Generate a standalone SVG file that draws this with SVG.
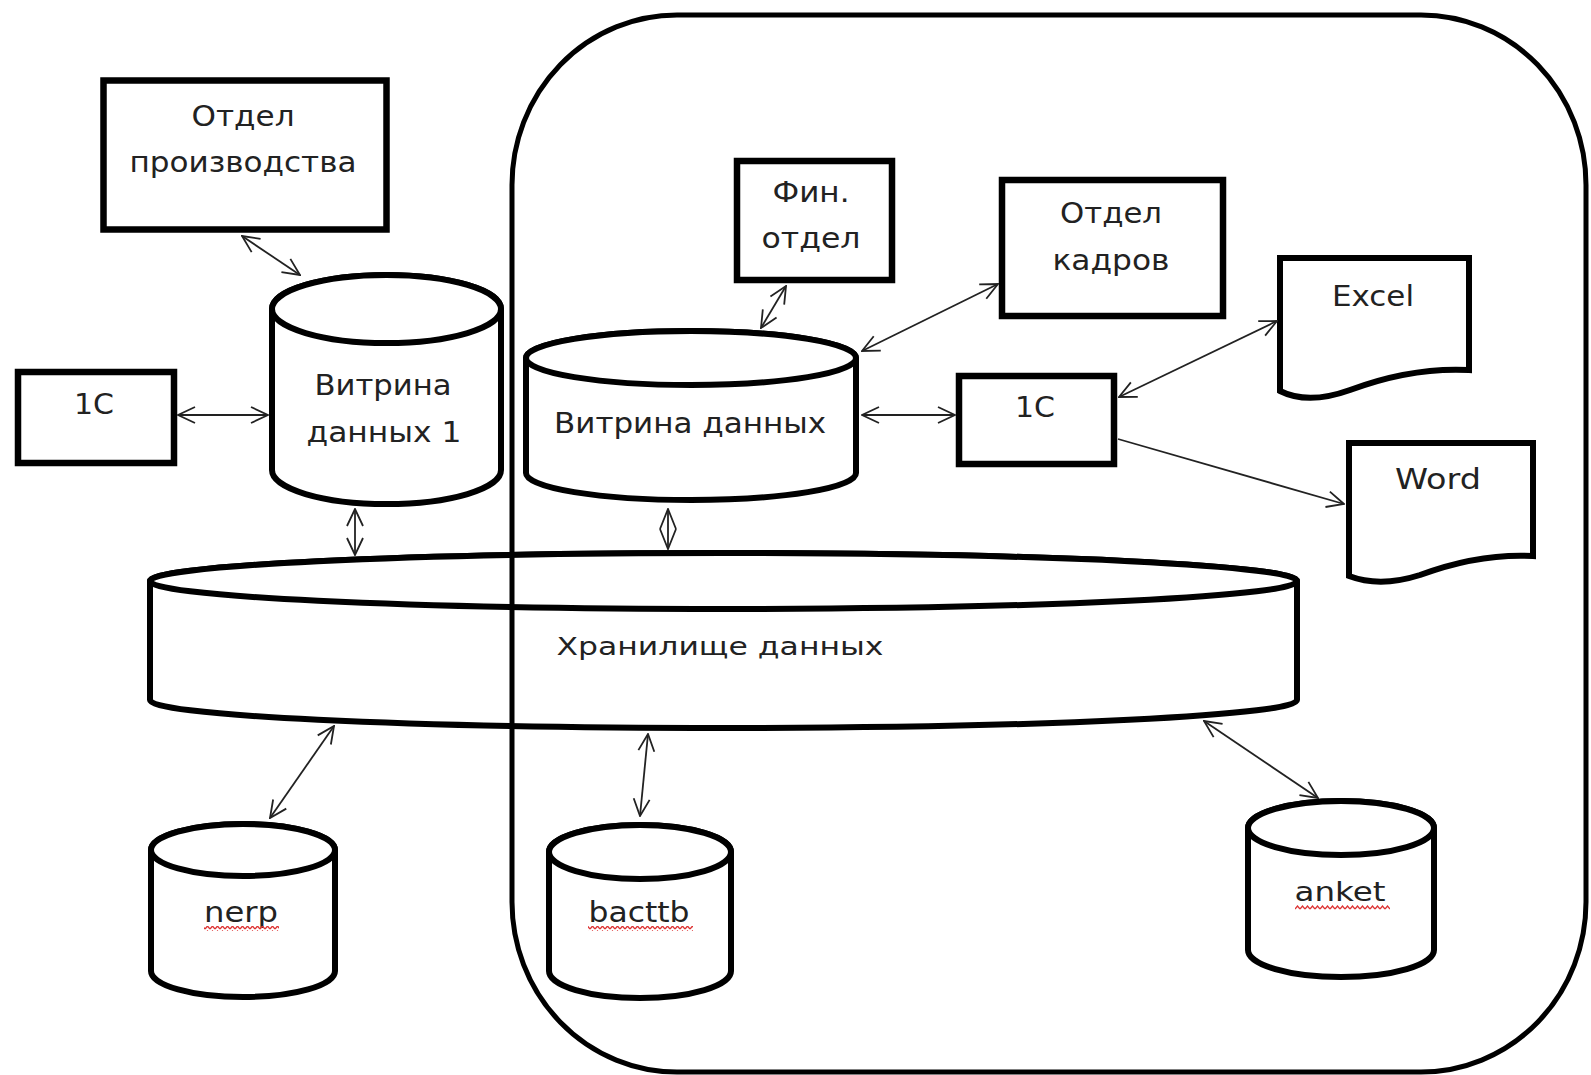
<svg xmlns="http://www.w3.org/2000/svg" width="1591" height="1075" viewBox="0 0 1591 1075">
<style>
.box{fill:#fff;stroke:#000;stroke-width:6.5}
.cyl{fill:#fff;stroke:#000;stroke-width:6}
.doc{fill:#fff;stroke:#000;stroke-width:6;stroke-linejoin:miter}
.lbl{font-family:"DejaVu Sans","Liberation Sans",sans-serif;font-size:28px;fill:#222;text-anchor:middle}
.con{fill:none;stroke:#222;stroke-width:1.8}
.bnd{fill:none;stroke:#000;stroke-width:5}
</style>
<defs>
<marker id="arr" viewBox="0 0 20 20" refX="19" refY="10" markerWidth="20" markerHeight="20" markerUnits="userSpaceOnUse" orient="auto-start-reverse"><path d="M2,2 L19,10 L2,18" fill="none" stroke="#222" stroke-width="1.8"/></marker>
<marker id="arrL" viewBox="0 0 22 20" refX="21" refY="10" markerWidth="22" markerHeight="20" markerUnits="userSpaceOnUse" orient="auto-start-reverse"><path d="M1,2 L21,10 L1,18" fill="none" stroke="#222" stroke-width="1.8"/></marker>
<pattern id="sq" x="0" y="0" width="5" height="5" patternUnits="userSpaceOnUse"><path d="M0,4 L2.5,1 L5,4" fill="none" stroke="#d33" stroke-width="1.3"/></pattern>
</defs>

<g id="otdel-proizv">
<rect class="box" x="103.5" y="80.5" width="283" height="149"/>
<text class="lbl" x="243" y="126" textLength="103" lengthAdjust="spacingAndGlyphs">Отдел</text>
<text class="lbl" x="243" y="172" textLength="227" lengthAdjust="spacingAndGlyphs">производства</text>
</g>

<g id="c1-left">
<rect class="box" x="18" y="372" width="156" height="91"/>
<text class="lbl" x="94" y="414" textLength="40" lengthAdjust="spacingAndGlyphs">1C</text>
</g>

<g id="vitrina1">
<path class="cyl" d="M272,309 V470 A114.5,34 0 0 0 501,470 V309 A114.5,34 0 0 0 272,309 Z"/>
<ellipse class="cyl" cx="386.5" cy="309" rx="114.5" ry="34"/>
<text class="lbl" x="383" y="395" textLength="137" lengthAdjust="spacingAndGlyphs">Витрина</text>
<text class="lbl" x="384" y="442" textLength="155" lengthAdjust="spacingAndGlyphs">данных 1</text>
</g>

<g id="fin-otdel">
<rect class="box" x="737" y="161" width="155" height="119"/>
<text class="lbl" x="811" y="202" textLength="77" lengthAdjust="spacingAndGlyphs">Фин.</text>
<text class="lbl" x="811" y="248" textLength="99" lengthAdjust="spacingAndGlyphs">отдел</text>
</g>

<g id="otdel-kadrov">
<rect class="box" x="1002" y="180" width="221" height="136"/>
<text class="lbl" x="1111" y="223" textLength="102" lengthAdjust="spacingAndGlyphs">Отдел</text>
<text class="lbl" x="1111" y="270" textLength="117" lengthAdjust="spacingAndGlyphs">кадров</text>
</g>

<g id="vitrina">
<path class="cyl" d="M526,358 V473 A165,27 0 0 0 856,473 V358 A165,27 0 0 0 526,358 Z"/>
<ellipse class="cyl" cx="691" cy="358" rx="165" ry="27"/>
<text class="lbl" x="690" y="433" textLength="272" lengthAdjust="spacingAndGlyphs">Витрина данных</text>
</g>

<g id="c1-right">
<rect class="box" x="959" y="376" width="155" height="88"/>
<text class="lbl" x="1035" y="417" textLength="40" lengthAdjust="spacingAndGlyphs">1C</text>
</g>

<g id="excel">
<path class="doc" d="M1280,258 H1469 V370 C1430,368 1390,375 1350,390 C1325,399 1300,401 1280,391 Z"/>
<text class="lbl" x="1373" y="306" textLength="82" lengthAdjust="spacingAndGlyphs">Excel</text>
</g>

<g id="word">
<path class="doc" d="M1349,443 H1533 V556 C1495,554 1455,562 1420,575 C1395,583 1370,584 1349,576 Z"/>
<text class="lbl" x="1438" y="489" textLength="86" lengthAdjust="spacingAndGlyphs">Word</text>
</g>

<g id="hranilishche">
<path class="cyl" d="M150,581 V700 A573.5,28 0 0 0 1297,700 V581 A573.5,28 0 0 0 150,581 Z"/>
<ellipse class="cyl" cx="723.5" cy="581" rx="573.5" ry="28"/>
<text class="lbl" x="720" y="655" style="font-size:24px" textLength="327" lengthAdjust="spacingAndGlyphs">Хранилище данных</text>
</g>

<g id="nerp">
<path class="cyl" d="M151,850 V971 A92,26 0 0 0 335,971 V850 A92,26 0 0 0 151,850 Z"/>
<ellipse class="cyl" cx="243" cy="850" rx="92" ry="26"/>
<text class="lbl" x="241" y="922" textLength="74" lengthAdjust="spacingAndGlyphs">nerp</text>
<rect x="204" y="926" width="75" height="5" fill="url(#sq)"/>
</g>

<g id="bacttb">
<path class="cyl" d="M549,852 V971 A91,27 0 0 0 731,971 V852 A91,27 0 0 0 549,852 Z"/>
<ellipse class="cyl" cx="640" cy="852" rx="91" ry="27"/>
<text class="lbl" x="639" y="922" textLength="101" lengthAdjust="spacingAndGlyphs">bacttb</text>
<rect x="588" y="926" width="105" height="5" fill="url(#sq)"/>
</g>

<g id="anket">
<path class="cyl" d="M1248,828 V950 A93,27 0 0 0 1434,950 V828 A93,27 0 0 0 1248,828 Z"/>
<ellipse class="cyl" cx="1341" cy="828" rx="93" ry="27"/>
<text class="lbl" x="1340" y="901" style="font-size:26px" textLength="91" lengthAdjust="spacingAndGlyphs">anket</text>
<rect x="1295" y="905" width="95" height="5" fill="url(#sq)"/>
</g>

<g id="connectors">
<line class="con" x1="242" y1="236" x2="300" y2="275" marker-start="url(#arr)" marker-end="url(#arr)"/>
<line class="con" x1="178" y1="415" x2="268" y2="415" marker-start="url(#arr)" marker-end="url(#arr)"/>
<line class="con" x1="355" y1="509" x2="355" y2="555" marker-start="url(#arr)" marker-end="url(#arr)"/>
<line class="con" x1="786" y1="286" x2="761" y2="328" marker-start="url(#arr)" marker-end="url(#arr)"/>
<line class="con" x1="862" y1="351" x2="998" y2="284" marker-start="url(#arr)" marker-end="url(#arr)"/>
<line class="con" x1="862" y1="415" x2="955" y2="415" marker-start="url(#arr)" marker-end="url(#arr)"/>
<line class="con" x1="1119" y1="397" x2="1277" y2="321" marker-start="url(#arr)" marker-end="url(#arr)"/>
<line class="con" x1="1118" y1="439" x2="1344" y2="504" marker-end="url(#arr)"/>
<line class="con" x1="668" y1="509" x2="668" y2="549" marker-start="url(#arrL)" marker-end="url(#arrL)"/>
<line class="con" x1="334" y1="726" x2="270" y2="818" marker-start="url(#arr)" marker-end="url(#arr)"/>
<line class="con" x1="648" y1="734" x2="640" y2="816" marker-start="url(#arr)" marker-end="url(#arr)"/>
<line class="con" x1="1204" y1="721" x2="1318" y2="798" marker-start="url(#arr)" marker-end="url(#arr)"/>
</g>

<g id="boundary">
<rect class="bnd" x="512" y="15" width="1074" height="1057" rx="165" ry="170"/>
</g>
</svg>
